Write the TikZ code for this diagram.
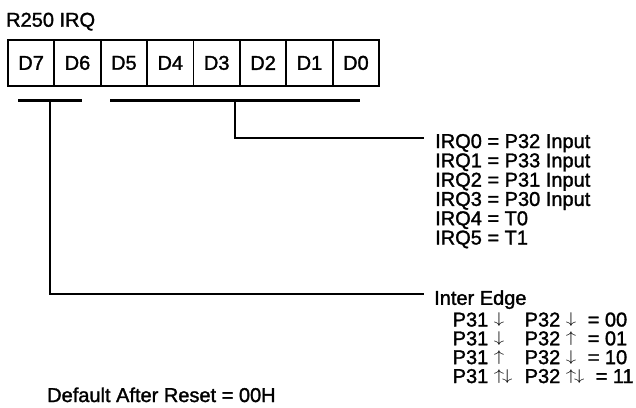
\documentclass[tikz,border=0pt]{standalone}
\usepackage{graphicx}
\usepackage{fontspec}
\setmainfont{Liberation Sans}[FakeBold=1.5]
\newcommand{\arr}[1]{\raisebox{2.7pt}{\scalebox{1}[0.75]{$#1$}}}
\newcommand{\dn}{\arr{\downarrow}}
\newcommand{\up}{\arr{\uparrow}}
\begin{document}
\begin{tikzpicture}[x=1pt,y=-1pt,
  every node/.style={inner sep=0pt, font=\fontsize{20}{19.3}\selectfont},
  cell/.style={draw, line width=1.8pt, minimum width=46.4pt, minimum height=46pt, anchor=north west},
  lbl/.style={anchor=base west},
  bar/.style={line width=3pt},
  wire/.style={line width=2.6pt, line cap=rect}]
\useasboundingbox (0,0) rectangle (636,407);
\node[lbl] (title) at (6,26.7) {R250 IRQ};
\foreach \i/\l in {0/D7,1/D6,2/D5,3/D4,4/D3,5/D2,6/D1,7/D0}
  \node[cell] (c\l) at ({7+46.4*\i},39) {\l};
% bars
\coordinate (lb1) at (18,100.5);
\coordinate (lb2) at (82,100.5);
\coordinate (rb1) at (110,100);
\coordinate (rb2) at (360,100);
\draw[bar] (lb1) -- (lb2);
\draw[bar] (rb1) -- (rb2);
% IRQ texts
\node[lbl] (irq0) at (435,148) {IRQ0 = P32 Input};
\node[lbl] (irq1) at (435,167.3) {IRQ1 = P33 Input};
\node[lbl] (irq2) at (435,186.6) {IRQ2 = P31 Input};
\node[lbl] (irq3) at (435,205.9) {IRQ3 = P30 Input};
\node[lbl] (irq4) at (435,225.2) {IRQ4 = T0};
\node[lbl] (irq5) at (435,244.5) {IRQ5 = T1};
% Inter Edge texts
\node[lbl] (edge) at (434,304.8) {Inter Edge};
\node[lbl] (e0) at (452.5,326.5) {\makebox[72pt][l]{P31 \dn}\makebox[63pt][l]{P32 \dn}= 00};
\node[lbl] (e1) at (452.5,345.3) {\makebox[72pt][l]{P31 \dn}\makebox[63pt][l]{P32 \up}= 01};
\node[lbl] (e2) at (452.5,364.1) {\makebox[72pt][l]{P31 \up}\makebox[63pt][l]{P32 \dn}= 10};
\node[lbl] (e3) at (452.5,383) {\makebox[72pt][l]{P31 \up\kern-2pt\dn}\makebox[71pt][l]{P32 \up\kern-2pt\dn}= 11};
\node[lbl] (default) at (47,402) {Default After Reset = 00H};
% connectors
\coordinate (rtap) at (235,100);
\coordinate (rend) at (423,138);
\coordinate (ltap) at (50,100.5);
\coordinate (lend) at (423,294);
\draw[wire] (rtap) |- (rend);
\draw[wire] (ltap) |- (lend);
\end{tikzpicture}
\end{document}
